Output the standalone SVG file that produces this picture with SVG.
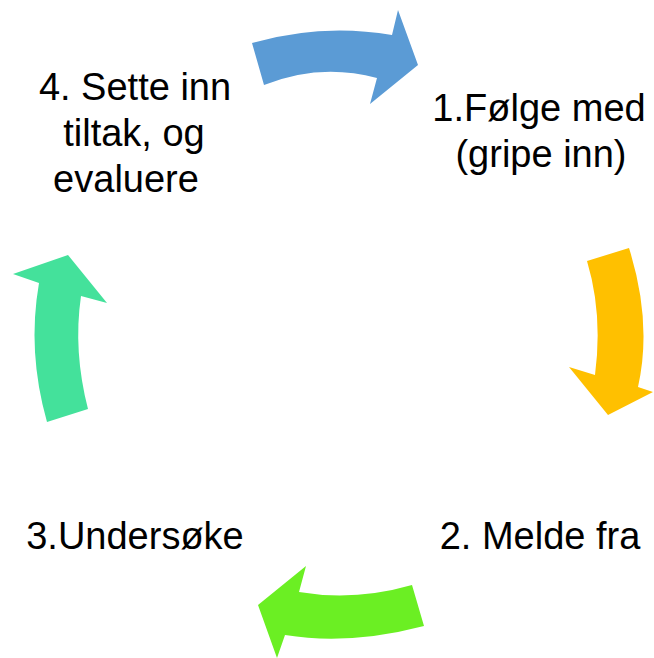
<svg xmlns="http://www.w3.org/2000/svg" width="654" height="658" viewBox="0 0 654 658">
<style>
.lbl{font-family:"Liberation Sans",Arial,sans-serif;font-size:38px;fill:#000;text-anchor:middle}
.arr{stroke:none}
</style>
<rect width="654" height="658" fill="#fff"/>
<g id="connectors">
<path class="arr" fill="#5B9BD5" d="M252,43 Q322,23 392,35 L398,10 L418,65 L370,104 L377,78 Q320,62.5 264,85 Z"/>
<path class="arr" fill="#FFC000" d="M587,261 L629,248 Q652.5,322.5 638,387 L653,392 L608,415 L569,367 L595,375 Q603,314 587,261 Z"/>
<path class="arr" fill="#6BEF23" d="M412,585 L424,626 Q349.5,645.5 285,635 L277,658 L258,605 L306,566 L299,592 Q354.5,601.5 412,585 Z"/>
<path class="arr" fill="#44E19B" d="M47,422 L88,409 Q73,351 81,296 L107,303 L68,255 L13,274 L39,283 Q27,351.5 47,422 Z"/>
</g>
<g id="node1">
<text class="lbl" x="539" y="121">1.Følge med</text>
<text class="lbl" x="541" y="167">(gripe inn)</text>
</g>
<g id="node2">
<text class="lbl" x="540" y="549">2. Melde fra</text>
</g>
<g id="node3">
<text class="lbl" x="135" y="549">3.Undersøke</text>
</g>
<g id="node4">
<text class="lbl" x="135" y="100">4. Sette inn</text>
<text class="lbl" x="134" y="146">tiltak, og</text>
<text class="lbl" x="126" y="192">evaluere</text>
</g>
</svg>
